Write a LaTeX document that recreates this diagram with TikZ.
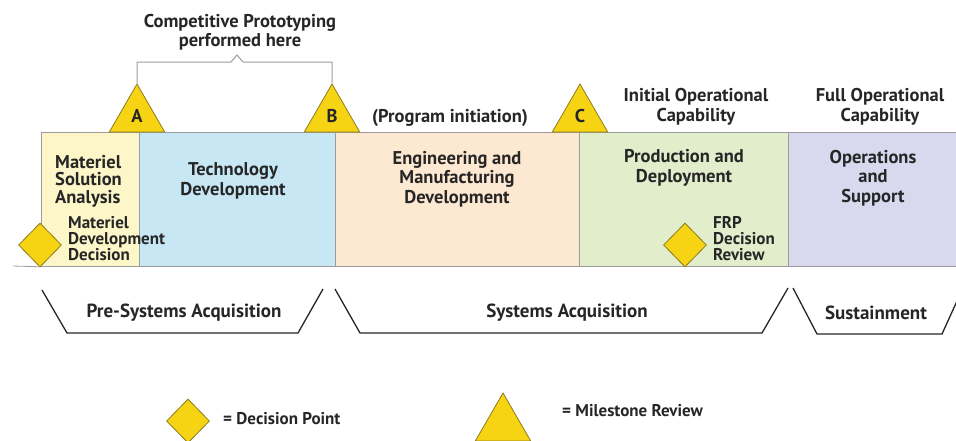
\documentclass[tikz,border=0pt]{standalone}
\usepackage{fontspec}
\setmainfont{PT Sans}
\usetikzlibrary{shapes.geometric}

\definecolor{msaFill}{HTML}{FCF6C9}
\definecolor{tdFill}{HTML}{C7E7F5}
\definecolor{emdFill}{HTML}{FDE8D2}
\definecolor{pdFill}{HTML}{E1EDCB}
\definecolor{osFill}{HTML}{D8D8EE}
\definecolor{gold}{HTML}{F6D414}
\definecolor{goldLine}{HTML}{8C7B1E}
\definecolor{lineGrey}{HTML}{9C9C9C}
\definecolor{inkGrey}{HTML}{262626}

\begin{document}
\begin{tikzpicture}[
    x=1pt, y=-1pt,
    font=\bfseries\fontsize{18.5}{19.5}\selectfont,
    text=inkGrey,
    phase/.style={
        draw=lineGrey,
        line width=0.8pt,
        anchor=north west,
        minimum height=134pt,
        inner sep=0pt
    },
    milestone/.style={
        regular polygon,
        regular polygon sides=3,
        minimum size=64pt,
        inner sep=0pt,
        fill=gold,
        draw=goldLine,
        line width=0.8pt
    },
    decision/.style={
        diamond,
        minimum width=43pt,
        minimum height=44pt,
        inner sep=0pt,
        fill=gold,
        draw=goldLine,
        line width=0.8pt
    },
    caption/.style={
        align=center,
        inner sep=0pt
    },
    note/.style={
        caption,
        align=left,
        anchor=west,
        font=\bfseries\fontsize{17}{16}\selectfont
    },
    period/.style={
        draw=inkGrey,
        line width=1.3pt
    }
]

\useasboundingbox (0,0) rectangle (956,440);
\clip (0,0) rectangle (956,440);

% --------------------------------------------------
% Phase band
% --------------------------------------------------

\node[phase, fill=msaFill, minimum width=98pt] (msa) at (41,132) {};
\node[phase, fill=tdFill, minimum width=196pt] (td) at (139,132) {};
\node[phase, fill=emdFill, minimum width=244pt] (emd) at (335,132) {};
\node[phase, fill=pdFill, minimum width=209pt] (pd) at (579,132) {};
\node[phase, fill=osFill, minimum width=180pt] (os) at (788,132) {};

\coordinate (baseStart) at (13,266);
\draw[draw=lineGrey, line width=0.8pt] (baseStart) -- (msa.south west);

\node[caption, align=left, anchor=west,
      font=\bfseries\fontsize{18.5}{17.5}\selectfont] (msaText) at (55,181)
    {Materiel\\Solution\\Analysis};

\node[caption] (tdText) at (233,181)
    {Technology\\Development};

\node[caption] (emdText) at (457,179)
    {Engineering and\\Manufacturing\\Development};

\node[caption] (pdText) at (684,168)
    {Production and\\Deployment};

\node[caption] (osText) at (873,178)
    {Operations\\and\\Support};

% --------------------------------------------------
% Decision points
% --------------------------------------------------

\node[decision] (mdd) at (40,245) {};

\node[note] (mddText) at (68,239)
    {Materiel\\Development\\Decision};

\node[decision] (frp) at (685,245) {};

\node[note] (frpText) at (713,239)
    {FRP\\Decision\\Review};

% --------------------------------------------------
% Milestones
% --------------------------------------------------

\node[milestone] (msA) at (137,116) {A};
\node[milestone] (msB) at (332,116) {B};
\node[milestone] (msC) at (580,116) {C};

\node[caption] (initText) at (450,118)
    {(Program initiation)};

\node[caption] (iocText) at (696,107)
    {Initial Operational\\Capability};

\node[caption] (focText) at (880,107)
    {Full Operational\\Capability};

% --------------------------------------------------
% Prototyping bracket
% --------------------------------------------------

\draw[draw=lineGrey, line width=1pt]
    (msA.corner 1) |- (231,62) -- (237,55) -- (243,62) -| (msB.corner 1);

\node[caption] (protoText) at (240,32)
    {Competitive Prototyping\\performed here};

% --------------------------------------------------
% Acquisition periods
% --------------------------------------------------

\draw[period] (42,290) -- (67,333) -- (298,333) -- (323,289);
\node[caption, font=\bfseries\fontsize{19}{20}\selectfont] (preText) at (184,313)
    {Pre-Systems Acquisition};

\draw[period] (335,289) -- (360,333) -- (762,333) -- (788,288);
\node[caption, font=\bfseries\fontsize{19}{20}\selectfont] (sysText) at (567,313)
    {Systems Acquisition};

\draw[period] (793,288) -- (817,334) -- (942,334) -- (962,290);
\node[caption, font=\bfseries\fontsize{19}{20}\selectfont] (susText) at (876,313)
    {Sustainment};

% --------------------------------------------------
% Legend
% --------------------------------------------------

\node[decision] (keyDecision) at (188,421) {};
\node[note] (keyDecisionText) at (223,419) {= Decision Point};

\node[milestone] (keyMilestone) at (503,425) {};
\node[note] (keyMilestoneText) at (562,411) {= Milestone Review};

\end{tikzpicture}
\end{document}
